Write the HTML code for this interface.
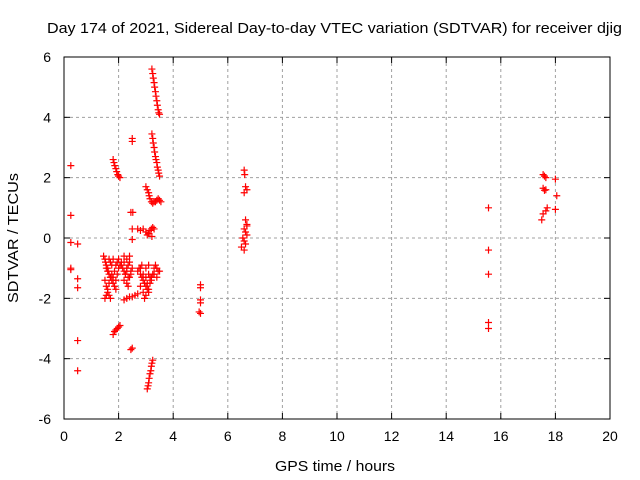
<!DOCTYPE html>
<html><head><meta charset="utf-8"><style>
body{margin:0;background:#fff}
svg{display:block;font-family:"Liberation Sans",sans-serif}
</style></head><body>
<svg id="c" width="640" height="480">
<rect width="640" height="480" fill="#fff"/>
<text x="47" y="33" font-size="15" textLength="575" lengthAdjust="spacingAndGlyphs">Day 174 of 2021, Sidereal Day-to-day VTEC variation (SDTVAR) for receiver djig</text>
<text x="275" y="471" font-size="15" textLength="120" lengthAdjust="spacingAndGlyphs">GPS time / hours</text>
<text x="18" y="303" font-size="15" textLength="130" lengthAdjust="spacingAndGlyphs" transform="rotate(-90 18 303)">SDTVAR / TECUs</text>
<g id="grid"></g><g id="pts"></g>
<rect x="64" y="57" width="546" height="362" fill="none" stroke="#000" stroke-width="1"/>
</svg>
<script>
const xTicks=[0,2,4,6,8,10,12,14,16,18,20];
const yTicks=[-6,-4,-2,0,2,4,6];
const outliers=[[0.25,2.4],[0.25,0.75],[0.25,-0.15],[0.25,-1.0],[0.25,-1.05],[0.5,-0.2],[0.5,-1.35],[0.5,-1.65],[0.5,-3.4],[0.5,-4.4]];
const streakTop=[[3.22,5.6],[3.25,5.45],[3.27,5.3],[3.3,5.15],[3.32,5.0],[3.35,4.85],[3.37,4.7],[3.4,4.55],[3.42,4.4],[3.45,4.25],[3.47,4.15],[3.5,4.1]];
const streakMid=[[3.22,3.45],[3.25,3.3],[3.27,3.15],[3.3,3.0],[3.32,2.85],[3.35,2.7],[3.37,2.6],[3.4,2.5],[3.42,2.35],[3.45,2.25],[3.47,2.15],[3.5,2.05]];
const streak2=[[1.8,2.6],[1.83,2.5],[1.86,2.4],[1.9,2.3],[1.93,2.2],[1.97,2.1],[2.0,2.05],[2.05,2.0],[2.5,3.3],[2.5,3.2]];
const hook=[[3.0,1.7],[3.05,1.6],[3.1,1.5],[3.12,1.4],[3.15,1.3],[3.2,1.2],[3.25,1.15],[3.3,1.2],[3.35,1.2],[3.4,1.25],[3.45,1.3],[3.5,1.25],[3.55,1.2]];
const small=[[2.45,0.85],[2.52,0.85],[2.5,0.3],[2.5,-0.05],[2.7,0.3],[2.8,0.25],[2.9,0.3],[3.0,0.2],[3.05,0.1],[3.1,0.15],[3.15,0.25],[3.2,0.3],[3.25,0.35],[3.3,0.3],[3.22,0.05]];
const blobA=[[1.45,-0.6],[1.5,-0.7],[1.52,-0.8],[1.55,-0.9],[1.6,-1.0],[1.62,-1.1],[1.65,-1.2],[1.7,-1.3],[1.75,-1.4],[1.8,-1.5],[1.85,-1.6],[1.9,-1.7],[1.95,-0.8],[2.0,-0.7],[2.05,-0.9],[2.1,-0.8],[2.2,-0.6],[1.5,-1.4],[1.55,-1.6],[1.6,-1.8],[1.65,-1.9],[1.7,-2.0],[1.75,-1.2],[1.8,-1.3],[1.85,-1.1],[1.9,-0.9],[1.55,-1.0],[1.6,-1.7],[1.65,-1.5],[1.7,-1.3],[1.6,-1.1],[1.55,-1.9],[1.5,-2.0],[1.8,-0.7],[1.75,-0.9],[1.7,-0.8],[1.65,-0.7],[2.0,-1.0],[1.95,-1.2],[1.9,-1.4]];
const blobB=[[2.1,-0.9],[2.15,-1.0],[2.2,-1.1],[2.25,-1.2],[2.3,-1.0],[2.35,-0.9],[2.4,-0.8],[2.45,-1.1],[2.5,-1.0],[2.2,-1.4],[2.3,-1.5],[2.4,-1.3],[2.3,-0.7],[2.35,-1.6],[2.25,-1.2],[2.4,-0.6],[2.45,-1.2],[2.3,-1.1],[2.2,-0.8],[2.35,-1.3]];
const blobC=[[2.7,-1.1],[2.75,-1.0],[2.8,-1.2],[2.85,-1.3],[2.9,-1.4],[2.95,-1.5],[3.0,-1.6],[3.05,-1.7],[3.1,-1.8],[3.15,-1.5],[3.2,-1.3],[3.25,-1.2],[3.3,-1.0],[3.35,-0.9],[3.4,-1.0],[3.45,-1.1],[3.5,-1.1],[2.8,-1.6],[2.9,-1.8],[3.0,-1.9],[3.1,-1.7],[3.2,-1.4],[2.9,-1.2],[3.0,-1.0],[3.1,-0.9],[2.95,-2.0],[3.05,-1.5],[3.15,-1.3],[2.85,-0.9],[3.3,-1.2],[3.4,-1.3],[3.0,-1.3],[3.1,-1.2],[2.8,-1.0]];
const lowBlobs=[[2.2,-2.05],[2.3,-2.0],[2.4,-1.95],[2.5,-1.95],[2.6,-1.9],[2.7,-1.85],[1.8,-3.2],[1.85,-3.1],[1.9,-3.05],[1.95,-3.0],[2.0,-2.95],[2.05,-2.9],[2.5,-3.65],[2.45,-3.7]];
const streakLow=[[3.05,-5.0],[3.08,-4.9],[3.1,-4.8],[3.12,-4.65],[3.15,-4.5],[3.18,-4.4],[3.2,-4.25],[3.22,-4.15],[3.25,-4.05]];
const mid=[[5.0,-1.55],[5.0,-1.65],[5.0,-2.05],[5.0,-2.15],[4.95,-2.45],[5.0,-2.5],
[6.6,2.25],[6.62,2.1],[6.65,1.7],[6.7,1.6],[6.6,1.5],[6.65,0.6],[6.7,0.45],[6.6,0.3],[6.65,0.2],[6.7,0.1],[6.55,0.0],[6.6,-0.1],[6.65,-0.2],[6.5,-0.3],[6.6,-0.4],[6.7,0.4]];
const right=[[15.55,1.0],[15.55,-0.4],[15.55,-1.2],[15.55,-2.8],[15.55,-3.0],
[17.55,2.1],[17.6,2.05],[17.65,2.0],[17.55,1.65],[17.65,1.6],[17.6,1.58],[17.7,1.0],[17.55,0.8],[17.65,0.9],[17.5,0.6],
[18.0,1.95],[18.05,1.4],[18.0,0.95]];
const series=[outliers,streakTop,streakMid,streak2,hook,small,blobA,blobB,blobC,lowBlobs,streakLow,mid,right];
const X=v=>64+v*27.3, Y=v=>238-v*30.17;
const NS='http://www.w3.org/2000/svg';
const g=document.getElementById('grid'), p=document.getElementById('pts');
function mk(t,a,par){const e=document.createElementNS(NS,t);for(const k in a)e.setAttribute(k,a[k]);par.appendChild(e);return e;}
xTicks.forEach(v=>{
 const x=X(v);
 if(v>0&&v<20){const l=mk('line',{x1:x,x2:x,y1:57,y2:419,stroke:'#a0a0a0','stroke-dasharray':'3,3'},g);
 
 }
 mk('line',{x1:x,x2:x,y1:419,y2:413,stroke:'#000'},g);mk('line',{x1:x,x2:x,y1:57,y2:63,stroke:'#000'},g);
 const t=mk('text',{x:x,y:441,'font-size':14,'text-anchor':'middle'},g);t.textContent=v;
 
 
});
yTicks.forEach(v=>{
 const y=Y(v);
 if(v>-6&&v<6){const l=mk('line',{x1:64,x2:610,y1:y,y2:y,stroke:'#a0a0a0','stroke-dasharray':'3,3'},g);
 
 }
 mk('line',{x1:64,x2:70,y1:y,y2:y,stroke:'#000'},g);mk('line',{x1:604,x2:610,y1:y,y2:y,stroke:'#000'},g);
 const t=mk('text',{x:51,y:y+5,'font-size':14,'text-anchor':'end'},g);t.textContent=v;
 
 
});
series.forEach(s=>s.forEach(pt=>{
 const x=X(pt[0]),y=Y(pt[1]);
 const e=mk('path',{d:`M${x-3.5},${y}H${x+3.5}M${x},${y-3.5}V${y+3.5}`,stroke:'#f00','stroke-width':1.2},p);
 
 
}));
</script>
</body></html>
